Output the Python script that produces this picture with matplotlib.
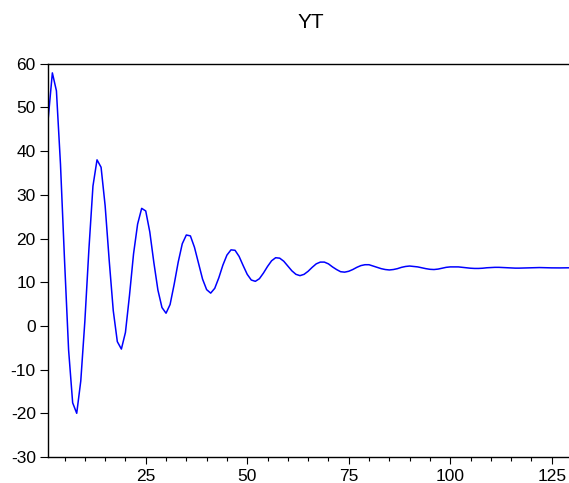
import matplotlib
matplotlib.use("Agg")
import matplotlib.pyplot as plt
from matplotlib.ticker import MultipleLocator, FixedLocator

plt.rcParams['font.family'] = ['Liberation Sans', 'DejaVu Sans']
plt.rcParams['axes.unicode_minus'] = False

title = "YT"
periods = list(range(1, 131))
yt = [
    47.7, 57.9, 53.8, 37.0, 15.0, -5.5, -17.6, -20.0, -12.6, 1.0,
    17.5, 32.0, 38.0, 36.3, 27.5, 15.0, 3.5, -3.6, -5.3, -1.5,
    7.0, 16.5, 23.3, 26.9, 26.3, 21.5, 14.5, 8.2, 4.2, 2.9,
    4.9, 9.5, 14.6, 18.8, 20.8, 20.6, 18.0, 14.3, 10.7, 8.3,
    7.5, 8.6, 11.0, 13.9, 16.2, 17.4, 17.3, 15.9, 13.8, 11.8,
    10.5, 10.2, 10.8, 12.1, 13.6, 14.9, 15.6, 15.5, 14.8, 13.7,
    12.6, 11.8, 11.5, 11.8, 12.5, 13.4, 14.2, 14.6, 14.6, 14.2,
    13.5, 12.9, 12.4, 12.3, 12.5, 12.9, 13.4, 13.8, 14.0, 14.0,
    13.7, 13.4, 13.1, 12.9, 12.8, 12.9, 13.1, 13.4, 13.6, 13.7,
    13.6, 13.5, 13.3, 13.1, 12.95, 12.9, 13.0, 13.2, 13.4, 13.5,
    13.5, 13.5, 13.4, 13.3, 13.2, 13.15, 13.15, 13.2, 13.3, 13.35,
    13.4, 13.4, 13.35, 13.3, 13.25, 13.22, 13.22, 13.25, 13.3, 13.33,
    13.35, 13.35, 13.32, 13.3, 13.28, 13.27, 13.27, 13.28, 13.3, 13.3,
]
y_ticks = [-30, -20, -10, 0, 10, 20, 30, 40, 50, 60]
x_major = [25, 50, 75, 100, 125]

W, H = 569, 483
fig = plt.figure(figsize=(W / 100, H / 100), dpi=100)
ax = fig.add_axes([48.3 / W, (H - 457) / H, (572 - 48.3) / W, (457 - 63.7) / H])

ax.plot(periods, yt, color='#0000ff', linewidth=1.1)

ax.set_xlim(1, 130)
ax.set_ylim(-30, 60)
ax.yaxis.set_major_locator(FixedLocator(y_ticks))
ax.xaxis.set_major_locator(FixedLocator(x_major))
ax.xaxis.set_minor_locator(MultipleLocator(5))

for s in ['left', 'bottom', 'top']:
    ax.spines[s].set_color('black')
    ax.spines[s].set_linewidth(1.0)
ax.spines['right'].set_visible(False)

ax.tick_params(axis='y', which='major', direction='out', length=5.5, width=0.8,
               labelsize=12.5, pad=3.5, colors='black')
ax.tick_params(axis='x', which='major', direction='out', length=5, width=0.8,
               labelsize=12.5, pad=3.5, colors='black')
ax.tick_params(axis='x', which='minor', direction='out', length=3.2, width=0.8)

fig.text(310.5 / W, 1 - 27.5 / H, title, ha='center', va='baseline', fontsize=15, color='black')

fig.savefig('out.png', dpi=100)
